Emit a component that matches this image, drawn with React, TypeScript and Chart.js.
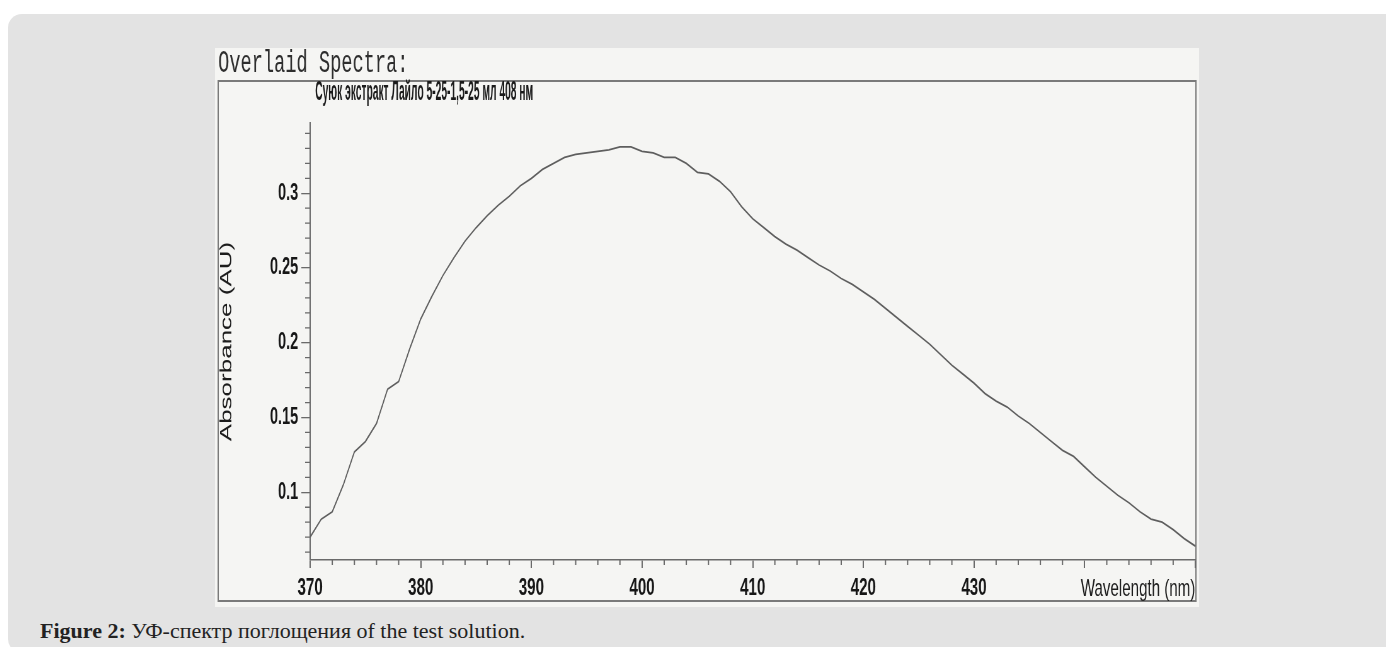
import React, { useEffect, useRef } from "react";
import { Chart, registerables } from "chart.js";

Chart.register(...registerables);

// ---- data ----
const wavelengths = [
  370, 371, 372, 373, 374, 375, 376, 377, 378, 379,
  380, 381, 382, 383, 384, 385, 386, 387, 388, 389,
  390, 391, 392, 393, 394, 395, 396, 397, 398, 399,
  400, 401, 402, 403, 404, 405, 406, 407, 408, 409,
  410, 411, 412, 413, 414, 415, 416, 417, 418, 419,
  420, 421, 422, 423, 424, 425, 426, 427, 428, 429,
  430, 431, 432, 433, 434, 435, 436, 437, 438, 439,
  440, 441, 442, 443, 444, 445, 446, 447, 448, 449, 450,
];
const absorbance = [
  0.070, 0.082, 0.087, 0.105, 0.127, 0.134, 0.146, 0.169, 0.174, 0.196,
  0.216, 0.231, 0.245, 0.257, 0.268, 0.277, 0.285, 0.292, 0.298, 0.305,
  0.310, 0.316, 0.320, 0.324, 0.326, 0.327, 0.328, 0.329, 0.331, 0.331,
  0.328, 0.327, 0.324, 0.324, 0.320, 0.314, 0.313, 0.308, 0.301, 0.291,
  0.283, 0.277, 0.271, 0.266, 0.262, 0.257, 0.252, 0.248, 0.243, 0.239,
  0.234, 0.229, 0.223, 0.217, 0.211, 0.205, 0.199, 0.192, 0.185, 0.179,
  0.173, 0.166, 0.161, 0.157, 0.151, 0.146, 0.140, 0.134, 0.128, 0.124,
  0.117, 0.110, 0.104, 0.098, 0.093, 0.087, 0.082, 0.080, 0.075, 0.069, 0.064,
];

const xTickValues = [370, 380, 390, 400, 410, 420, 430, 440, 450];
const xTickLabels = ["370", "380", "390", "400", "410", "420", "430", "", ""];
const xMinorTicks = [
  372, 374, 376, 378, 382, 384, 386, 388, 392, 394, 396, 398, 402, 404, 406, 408,
  412, 414, 416, 418, 422, 424, 426, 428, 432, 434, 436, 438, 442, 444, 446, 448,
];
const yTickValues = [0.1, 0.15, 0.2, 0.25, 0.3];
const yTickLabels = ["0.1", "0.15", "0.2", "0.25", "0.3"];
const yMinorTicks = [
  0.06, 0.07, 0.08, 0.09, 0.11, 0.12, 0.13, 0.14, 0.16, 0.17, 0.18, 0.19,
  0.21, 0.22, 0.23, 0.24, 0.26, 0.27, 0.28, 0.29, 0.31, 0.32, 0.33, 0.34,
];
const xMin = 370;
const xMax = 450;
const yMin = 0.0547;
const yMax = 0.347;

const plotTitle = "Overlaid Spectra:";
const sampleTitle = "Суюк экстракт Лайло 5-25-1,5-25 мл 408 нм";
const xAxisTitle = "Wavelength (nm)";
const yAxisTitle = "Absorbance (AU)";
const captionBold = "Figure 2:";
const captionText = " УФ-спектр поглощения of the test solution.";

// ---- layout (unscaled canvas coordinates; the scan is squeezed horizontally) ----
const SQUEEZE = 0.63;
const CANVAS_W = 1562;
const CANVAS_H = 559;
const SANS = '"Liberation Sans", Arial, sans-serif';

function drawFitted(
  ctx: CanvasRenderingContext2D,
  text: string,
  x: number,
  y: number,
  font: string,
  color: string,
  width: number
) {
  ctx.save();
  ctx.font = font;
  ctx.fillStyle = color;
  ctx.textAlign = "left";
  ctx.textBaseline = "alphabetic";
  const w = ctx.measureText(text).width;
  const k = w > 0 ? width / w : 1;
  ctx.translate(x, y);
  ctx.scale(k, 1);
  ctx.fillText(text, 0, 0);
  ctx.restore();
}

const decorPlugin = {
  id: "scanDecor",
  beforeDraw(chart: any) {
    const ctx = chart.ctx as CanvasRenderingContext2D;
    ctx.save();
    ctx.fillStyle = "#f5f5f3";
    ctx.fillRect(0, 0, chart.width, chart.height);
    // frame box
    ctx.strokeStyle = "#7a7a7a";
    ctx.lineWidth = 2;
    ctx.strokeRect(5, 33, 1552, 520);
    ctx.restore();
    drawFitted(ctx, plotTitle, 5, 24, '31px "Liberation Mono", monospace', "#2e2e2e", 302);
    drawFitted(ctx, sampleTitle, 159, 52, "bold 27px " + SANS, "#1a1a1a", 346);
  },
  afterDraw(chart: any) {
    const ctx = chart.ctx as CanvasRenderingContext2D;
    const xs = chart.scales.x;
    const ys = chart.scales.y;
    const axisY = chart.chartArea.bottom;
    const axisX = chart.chartArea.left;
    ctx.save();
    ctx.strokeStyle = "#6a6a6a";
    ctx.lineWidth = 2;
    ctx.beginPath();
    for (const v of xMinorTicks) {
      const px = xs.getPixelForValue(v);
      ctx.moveTo(px, axisY);
      ctx.lineTo(px, axisY + 5);
    }
    ctx.stroke();
    ctx.lineWidth = 1.3;
    ctx.beginPath();
    for (const v of yMinorTicks) {
      const py = ys.getPixelForValue(v);
      ctx.moveTo(axisX - 8, py);
      ctx.lineTo(axisX, py);
    }
    ctx.stroke();
    ctx.restore();
  },
};

export default function App() {
  const canvasRef = useRef<HTMLCanvasElement | null>(null);

  useEffect(() => {
    const canvas = canvasRef.current;
    if (!canvas) return;
    const chart = new Chart(canvas, {
      type: "line",
      data: {
        datasets: [
          {
            label: sampleTitle,
            data: wavelengths.map((w, i) => ({ x: w, y: absorbance[i] })),
            borderColor: "#5e5e5e",
            borderWidth: 1.8,
            pointRadius: 0,
            tension: 0,
            fill: false,
          },
        ],
      },
      options: {
        animation: false,
        responsive: true,
        maintainAspectRatio: false,
        events: [],
        layout: { padding: { top: 75, right: 5, left: 0, bottom: 0 } },
        plugins: {
          legend: { display: false },
          tooltip: { enabled: false },
          title: { display: false },
        },
        scales: {
          x: {
            type: "linear",
            min: xMin,
            max: xMax,
            afterBuildTicks: (scale: any) => {
              scale.ticks = xTickValues.map((v) => ({ value: v }));
            },
            afterFit: (scale: any) => {
              scale.height = 47;
            },
            ticks: {
              autoSkip: false,
              maxRotation: 0,
              minRotation: 0,
              padding: 6,
              color: "#161616",
              font: { family: SANS, size: 24, weight: "bold" },
              callback: (_v: any, i: number) => xTickLabels[i],
            },
            grid: {
              display: true,
              drawOnChartArea: false,
              drawTicks: true,
              tickLength: 8,
              color: "#6a6a6a",
              lineWidth: 2,
            },
            border: { display: true, color: "#6a6a6a", width: 1.5 },
            title: {
              display: true,
              text: xAxisTitle,
              align: "end",
              color: "#1c1c1c",
              font: { family: SANS, size: 24 },
              padding: { top: 0, bottom: 3 },
            },
          },
          y: {
            type: "linear",
            min: yMin,
            max: yMax,
            afterBuildTicks: (scale: any) => {
              scale.ticks = yTickValues.map((v) => ({ value: v }));
            },
            afterFit: (scale: any) => {
              scale.width = 151;
            },
            ticks: {
              padding: 5,
              color: "#161616",
              font: { family: SANS, size: 23, weight: "bold" },
              callback: (_v: any, i: number) => yTickLabels[i],
            },
            grid: {
              display: true,
              drawOnChartArea: false,
              drawTicks: true,
              tickLength: 14,
              color: "#6a6a6a",
              lineWidth: 1.3,
            },
            border: { display: true, color: "#6a6a6a", width: 2 },
            title: {
              display: true,
              text: yAxisTitle,
              color: "#1c1c1c",
              font: { family: SANS, size: 26 },
              padding: { top: 3, bottom: 0 },
            },
          },
        },
      },
      plugins: [decorPlugin],
    } as any);
    return () => chart.destroy();
  }, []);

  return (
    <div>
      <style>{"html,body{overflow:hidden;}"}</style>
      <div
        style={{
          position: "relative",
          top: 6,
          width: 1385,
          height: 639,
          background: "#e3e3e3",
          borderRadius: "14px 6px 14px 14px",
          overflow: "hidden",
        }}
      >
        <div
          style={{
            position: "absolute",
            left: 207,
            top: 34,
            width: CANVAS_W,
            height: CANVAS_H,
            transform: `scaleX(${SQUEEZE})`,
            transformOrigin: "0 0",
          }}
        >
          <canvas ref={canvasRef} />
        </div>
        <div
          style={{
            position: "absolute",
            left: 32,
            top: 606,
            fontFamily: '"Liberation Serif", "Times New Roman", serif',
            fontSize: 22,
            lineHeight: "22px",
            color: "#222",
            whiteSpace: "nowrap",
          }}
        >
          <b>{captionBold}</b>
          {captionText}
        </div>
      </div>
    </div>
  );
}
